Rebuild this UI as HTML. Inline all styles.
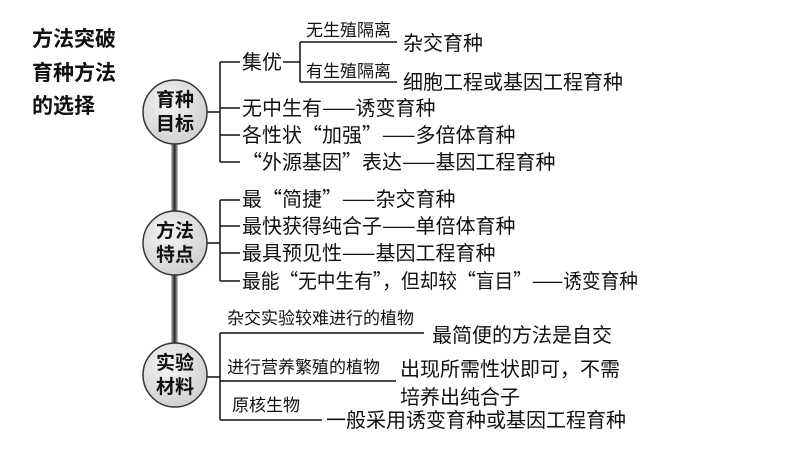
<!DOCTYPE html>
<html><head><meta charset="utf-8"><style>
body{margin:0;background:#fff}
svg text{font-family:"Noto Sans CJK SC","Liberation Sans",sans-serif;fill:#111}
</style></head><body>
<svg width="794" height="447" viewBox="0 0 794 447" xmlns="http://www.w3.org/2000/svg">
<defs><linearGradient id="g" x1="0" x2="1"><stop offset="0" stop-color="#ccc"/><stop offset="0.5" stop-color="#222"/><stop offset="1" stop-color="#ccc"/></linearGradient>
<radialGradient id="c" cx="0.4" cy="0.35" r="0.7"><stop offset="0" stop-color="#f4f4f4"/><stop offset="1" stop-color="#cfcfcf"/></radialGradient></defs>
<text x="32" y="46" font-size="21" font-weight="bold">方法突破</text>
<text x="32" y="80" font-size="21" font-weight="bold">育种方法</text>
<text x="32" y="113" font-size="21" font-weight="bold">的选择</text>
<rect x="171" y="140" width="7" height="205" fill="url(#g)"/>
<g stroke="#111" stroke-width="1.5" fill="none">
<path d="M207 112H220M220 62V162M220 62H240M220 108H240M220 135H240M220 162H240"/>
<path d="M283 62H300M300 42V82M300 42H397M300 82H397"/>
<path d="M207 243H220M220 200V281M220 200H240M220 226H240M220 253H240M220 281H240"/>
<path d="M207 377H220M220 333V420M220 333H424M220 381H396M220 420H322"/>
</g>
<g stroke="#333" stroke-width="1.5" fill="url(#c)">
<circle cx="175" cy="112" r="32"/><circle cx="175" cy="243" r="32"/><circle cx="175" cy="375" r="32"/>
</g>
<g font-size="19" font-weight="bold" text-anchor="middle">
<text x="175" y="106">育种</text><text x="175" y="130">目标</text>
<text x="175" y="237">方法</text><text x="175" y="261">特点</text>
<text x="175" y="369">实验</text><text x="175" y="393">材料</text>
</g>
<g font-size="20">
<text x="242" y="69">集优</text>
<text x="403" y="50">杂交育种</text>
<text x="403" y="89">细胞工程或基因工程育种</text>
<text x="242" y="115">无中生有——诱变育种</text>
<text x="242" y="142">各性状“加强”——多倍体育种</text>
<text x="242" y="169">“外源基因”表达——基因工程育种</text>
<text x="242" y="206">最“简捷”——杂交育种</text>
<text x="242" y="233">最快获得纯合子——单倍体育种</text>
<text x="242" y="260">最具预见性——基因工程育种</text>
<text x="242" y="288" textLength="396" lengthAdjust="spacingAndGlyphs">最能“无中生有”，但却较“盲目”——诱变育种</text>
<text x="432" y="342">最简便的方法是自交</text>
<text x="400" y="376">出现所需性状即可，不需</text>
<text x="400" y="404">培养出纯合子</text>
<text x="326" y="427">一般采用诱变育种或基因工程育种</text>
</g>
<g font-size="17">
<text x="306" y="36">无生殖隔离</text>
<text x="306" y="77">有生殖隔离</text>
<text x="227" y="324">杂交实验较难进行的植物</text>
<text x="227" y="373">进行营养繁殖的植物</text>
<text x="232" y="411">原核生物</text>
</g>
</svg>
</body></html>
